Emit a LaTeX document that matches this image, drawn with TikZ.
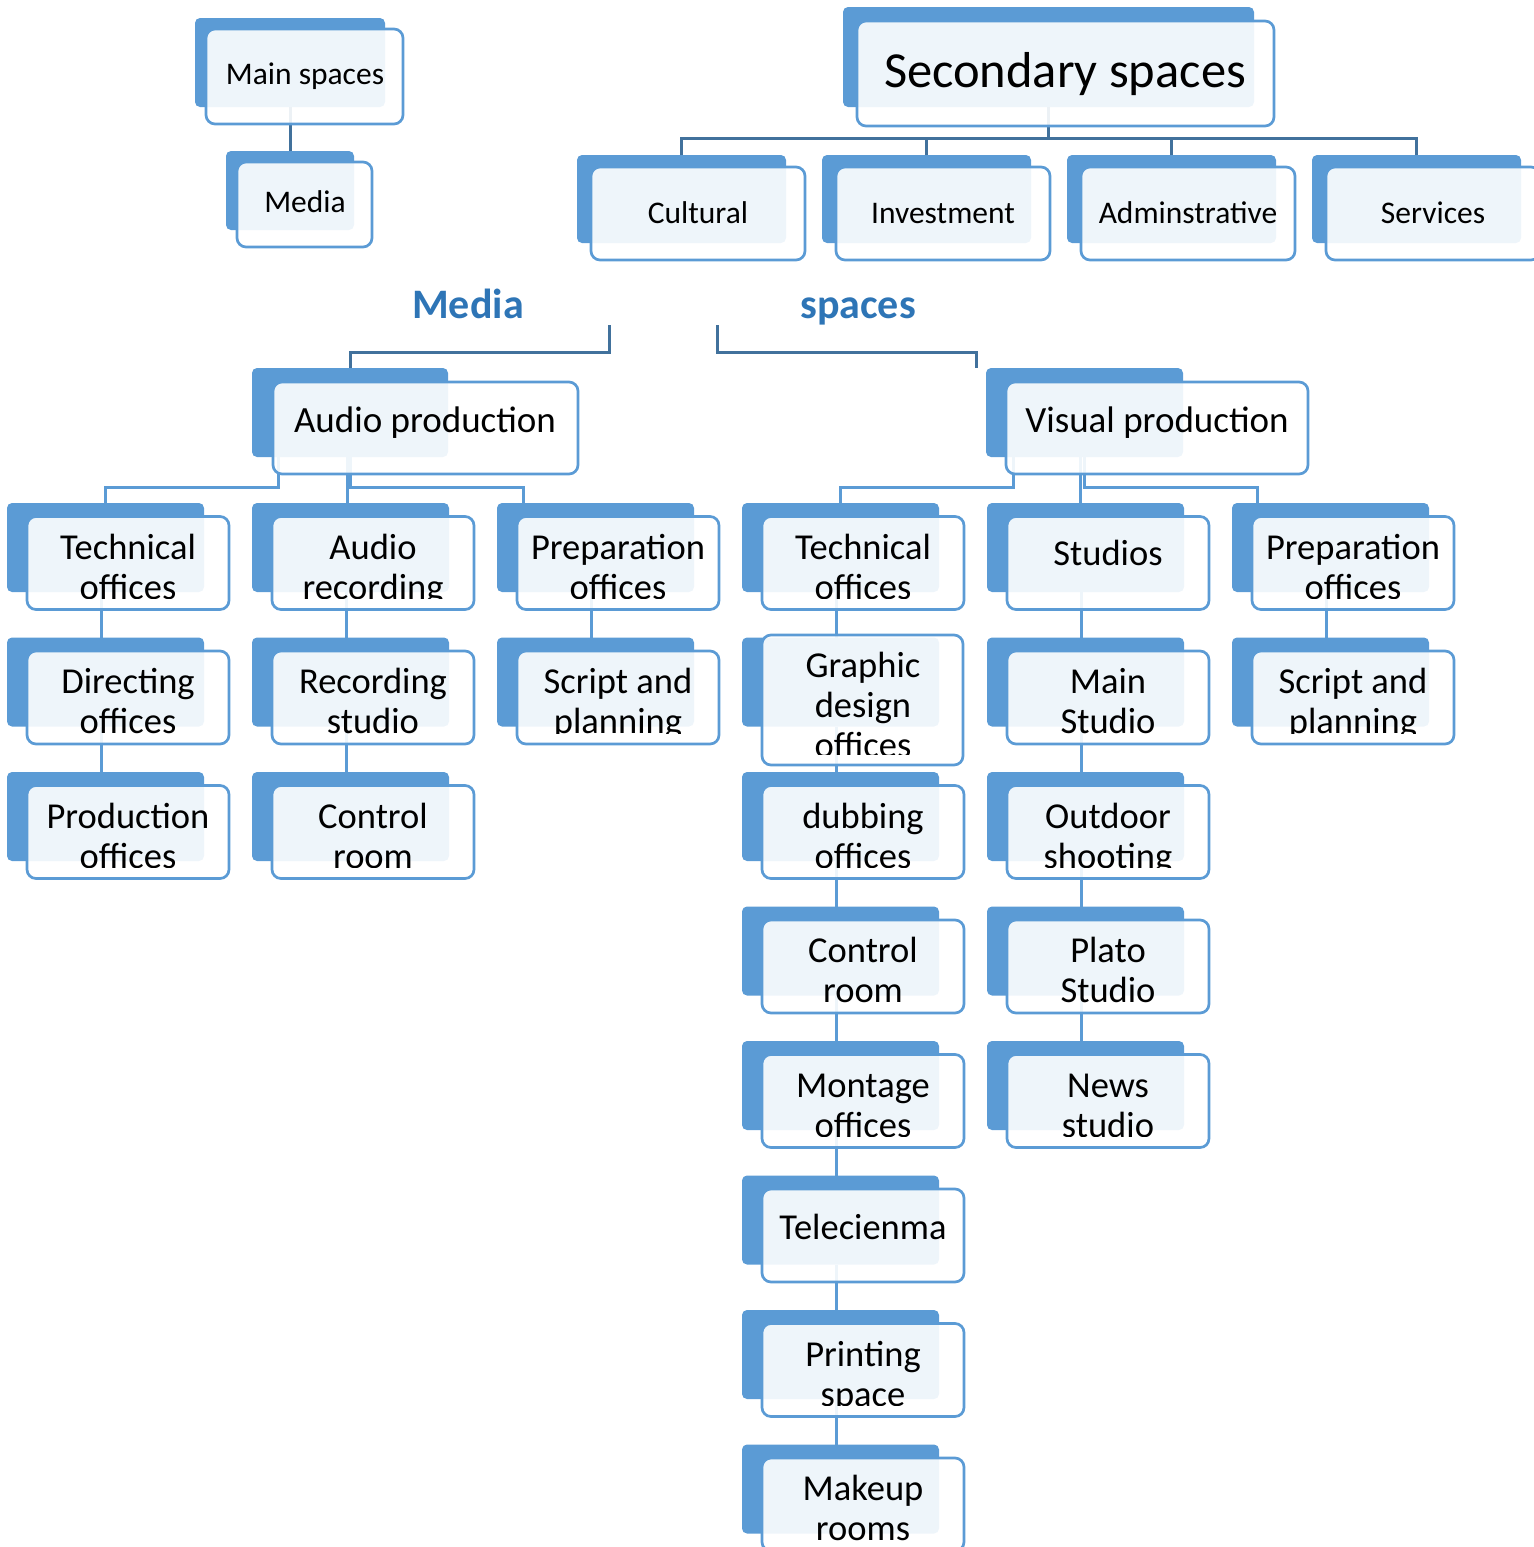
\documentclass[tikz,border=0pt]{standalone}
\usepackage{fontspec}
\setmainfont{Carlito}
\usetikzlibrary{calc}

\definecolor{accent}{RGB}{91,155,213}
\definecolor{linkdark}{RGB}{65,113,156}
\definecolor{titleblue}{RGB}{46,117,182}

\pgfdeclarelayer{backdrop}
\pgfdeclarelayer{links}
\pgfsetlayers{backdrop,links,main}

\tikzset{
  backrect/.style={fill=accent, draw=none, rounded corners=2.5pt,
    anchor=north west, inner sep=0pt, outer sep=0pt},
  frontrect/.style={draw=accent, line width=1.35pt, fill=white, fill opacity=0.9,
    rounded corners=4.5pt, anchor=north west, inner sep=0pt, outer sep=0pt},
  link/.style={draw=accent, line width=1.5pt},
  darklink/.style={draw=linkdark, line width=1.5pt},
  toptext/.style={anchor=base, inner sep=0pt, font=\fontsize{15.75}{18}\selectfont},
  celltext/.style={anchor=base, inner sep=0pt, font=\fontsize{18.25}{20}\selectfont},
  headtext/.style={anchor=base, inner sep=0pt, font=\fontsize{18.5}{20}\selectfont},
  bigtext/.style={anchor=base, inner sep=0pt, font=\fontsize{25.25}{28}\selectfont},
  sectiontitle/.style={anchor=base, inner sep=0pt, text=titleblue,
    font=\fontsize{21}{24}\selectfont\bfseries},
}

% a panel: solid back plate plus a translucent framed plate in front
% #1 name, #2/#3 back corner, #4/#5 back size, #6/#7 front offset, #8/#9 front size
\newcommand\panel[9]{%
  \begin{pgfonlayer}{backdrop}%
    \node[backrect, minimum width=#4*0.5pt, minimum height=#5*0.5pt] (#1-b) at (#2,#3) {};%
  \end{pgfonlayer}%
  \node[frontrect, minimum width=#8*0.5pt, minimum height=#9*0.5pt] (#1) at ({#2+#6},{#3+#7}) {};%
}

% centred block of lines, aligned on the first baseline
\newcommand\lines[2][20pt]{\parbox[t]{110pt}{\centering\baselineskip=#1\relax #2}}

% standard child panel with its text cut off near the lower edge
% #1 name, #2/#3 back corner, #4 first baseline offset, #5 text
\newcommand\cell[5]{%
  \panel{#1}{#2}{#3}{197}{89}{20}{13.5}{202}{93}%
  \begin{scope}
    \clip ({#2+18},{#3-10}) rectangle ({#2+224},{#3+95.5});
    \node[celltext] (#1-t) at ({#2+121},{#3+#4}) {#5};
  \end{scope}%
}

\begin{document}
\begin{tikzpicture}[x=0.5pt, y=-0.5pt]
\useasboundingbox (0,0) rectangle (1534,1547);

% ---------- top row ----------
\panel{ms}{195}{18}{190}{89}{11}{11}{197}{95}
\node[toptext] (ms-t) at (305,84) {Main spaces};
\panel{md}{226}{151}{128}{79}{11}{11}{135}{85}
\node[toptext] (md-t) at (305,212) {Media};

\panel{ss}{843}{7}{411}{100}{14}{14}{417}{105}
\node[bigtext] (ss-t) at (1065,87) {Secondary spaces};

\panel{cu}{577}{155}{209}{88}{14}{12}{214}{93}
\node[toptext] (cu-t) at (698,223) {Cultural};
\panel{iv}{822}{155}{209}{88}{14}{12}{214}{93}
\node[toptext] (iv-t) at (943,223) {Investment};
\panel{ad}{1067}{155}{209}{88}{14}{12}{214}{93}
\node[toptext] (ad-t) at (1188,223) {Adminstrative};
\panel{sv}{1312}{155}{209}{88}{14}{12}{214}{93}
\node[toptext] (sv-t) at (1433,223) {Services};

% ---------- section titles ----------
\node[sectiontitle] (tm) at (468,318) {Media};
\node[sectiontitle] (tsp) at (858,318) {spaces};
\coordinate (mbr) at (609,325);
\coordinate (sbr) at (717,325);

% ---------- production heads ----------
\panel{ap}{252}{368}{196}{89}{21}{14}{305}{92}
\node[headtext] (ap-t) at (425,432) {Audio production};
\panel{vp}{986}{368}{197}{89}{20}{14}{302}{92}
\node[headtext] (vp-t) at (1157,432) {Visual production};

% ---------- audio branch ----------
\cell{a1}{7}{503}{56}{\lines{Technical\\offices}}
\cell{a2}{7}{637.5}{56}{\lines{Directing\\offices}}
\cell{a3}{7}{772}{56}{\lines{Production\\offices}}
\cell{b1}{252}{503}{56}{\lines{Audio\\recording}}
\cell{b2}{252}{637.5}{56}{\lines{Recording\\studio}}
\cell{b3}{252}{772}{56}{\lines{Control\\room}}
\cell{c1}{497}{503}{56}{\lines{Preparation\\offices}}
\cell{c2}{497}{637.5}{56}{\lines{Script and\\planning}}

% ---------- visual branch ----------
\cell{d1}{742}{503}{56}{\lines{Technical\\offices}}
% taller panel for the three-line entry
\begin{pgfonlayer}{backdrop}
  \node[backrect, minimum width=197*0.5pt, minimum height=89*0.5pt] (d2-b) at (742,637.5) {};
\end{pgfonlayer}
\node[frontrect, minimum width=201*0.5pt, minimum height=130*0.5pt] (d2) at (762,635) {};
\begin{scope}
  \clip (760,625) rectangle (966,754);
  \node[celltext] (d2-t) at (863,677) {\lines{Graphic\\design\\offices}};
\end{scope}
\cell{d3}{742}{772}{56}{\lines{dubbing\\offices}}
\cell{d4}{742}{906.5}{56}{\lines{Control\\room}}
\cell{d5}{742}{1041}{56}{\lines{Montage\\offices}}
\cell{d6}{742}{1175.5}{64}{Telecienma}
\cell{d7}{742}{1310}{56}{\lines{Printing\\space}}
\cell{d8}{742}{1444.5}{56}{\lines{Makeup\\rooms}}

\cell{e1}{987}{503}{62}{Studios}
\cell{e2}{987}{637.5}{56}{\lines{Main\\Studio}}
\cell{e3}{987}{772}{56}{\lines{Outdoor\\shooting}}
\cell{e4}{987}{906.5}{56}{\lines{Plato\\Studio}}
\cell{e5}{987}{1041}{56}{\lines{News\\studio}}

\cell{f1}{1232}{503}{56}{\lines{Preparation\\offices}}
\cell{f2}{1232}{637.5}{56}{\lines{Script and\\planning}}

% ---------- connectors ----------
\begin{pgfonlayer}{links}
  % main spaces
  \draw[darklink] (ms-b.south) -- (md-b.north);
  % secondary spaces bus
  \coordinate (bus) at (0,138);
  \draw[darklink] (ss-b.south) -- (ss-b.south |- bus);
  \foreach \c in {cu,iv,ad,sv}
    \draw[darklink] (\c-b.north) -- (\c-b.north |- bus) -- (ss-b.south |- bus);
  % section brackets
  \draw[darklink] (mbr) -- ++(0,27) -| (ap-b.north);
  \draw[darklink] (sbr) -- ++(0,27) -| ($(vp-b.north west)+(-10,0)$);
  % audio production to its columns
  \draw[link] ($(ap-b.south west)+(26,0)$) -- ++(0,30) -| (a1-b.north);
  \draw[link] ($(ap-b.south west)+(95,0)$) -- ($(b1-b.north west)+(95,0)$);
  \draw[link] ($(ap-b.south west)+(98,0)$) -- ++(0,30) -| ($(c1-b.north west)+(26,0)$);
  % visual production to its columns
  \draw[link] ($(vp-b.south west)+(27,0)$) -- ++(0,30) -| (d1-b.north);
  \draw[link] ($(vp-b.south west)+(94,0)$) -- ($(e1-b.north west)+(93,0)$);
  \draw[link] ($(vp-b.south west)+(98,0)$) -- ++(0,30) -| ($(f1-b.north west)+(25,0)$);
  % column chains
  \foreach \p/\q in {a1/a2,a2/a3,b1/b2,b2/b3,c1/c2,
                     d1/d2,d2/d3,d3/d4,d4/d5,d5/d6,d6/d7,d7/d8,
                     e1/e2,e2/e3,e3/e4,e4/e5,f1/f2}
    \draw[link] ($(\p-b.south west)+(94,0)$) -- ($(\q-b.north west)+(94,0)$);
\end{pgfonlayer}
\end{tikzpicture}
\end{document}
